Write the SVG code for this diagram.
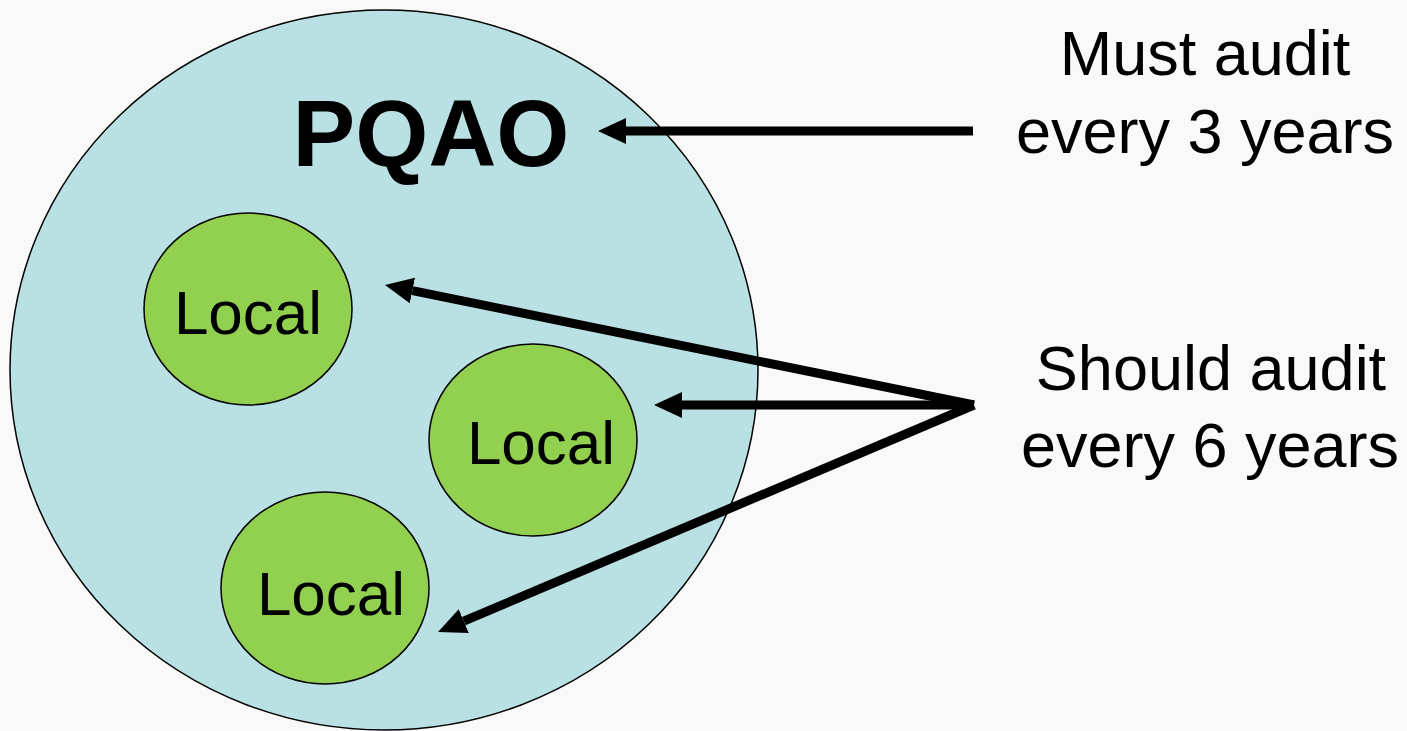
<svg xmlns="http://www.w3.org/2000/svg" width="1407" height="731" viewBox="0 0 1407 731">
<defs>
<style>
.bg{fill:#f9f9f9}
.pqao{fill:#b9e0e3;stroke:#000;stroke-width:1.5}
.local{fill:#92d050;stroke:#000;stroke-width:1.5}
.t{font-family:"Liberation Sans",Arial,sans-serif;fill:#000;text-anchor:middle}
.big{font-size:94px;font-weight:bold}
.loc{font-size:62px}
.side{font-size:63px}
.arr{stroke:#000;stroke-width:9;fill:none;marker-end:url(#ah)}
</style>
<marker id="ah" markerUnits="userSpaceOnUse" markerWidth="30" markerHeight="30" viewBox="0 -15 30 30" refX="0" refY="0" orient="auto">
<path d="M0,-13 L28,0 L0,13 Z" fill="#000"/>
</marker>
</defs>
<rect class="bg" x="0" y="0" width="1407" height="731"/>
<g id="pqao">
<ellipse class="pqao" cx="384" cy="370" rx="374" ry="360"/>
<text class="t big" x="431" y="166">PQAO</text>
</g>
<g id="local1">
<ellipse class="local" cx="248" cy="309" rx="104" ry="96"/>
<text class="t loc" x="248" y="334">Local</text>
</g>
<g id="local2">
<ellipse class="local" cx="533" cy="440" rx="104" ry="96"/>
<text class="t loc" x="541" y="464">Local</text>
</g>
<g id="local3">
<ellipse class="local" cx="325" cy="588" rx="104" ry="96"/>
<text class="t loc" x="331" y="615">Local</text>
</g>
<g id="label-must">
<text class="t side" x="1205" y="75">Must audit</text>
<text class="t side" x="1205" y="153">every 3 years</text>
</g>
<g id="label-should">
<text class="t side" x="1211" y="390">Should audit</text>
<text class="t side" x="1210" y="467">every 6 years</text>
</g>
<g id="connectors">
<line class="arr" x1="973" y1="131" x2="626" y2="131"/>
<line class="arr" x1="974" y1="405" x2="412.4" y2="290.6"/>
<line class="arr" x1="974" y1="405" x2="682" y2="405"/>
<line class="arr" x1="974" y1="405" x2="463.8" y2="621.1"/>
</g>
</svg>
